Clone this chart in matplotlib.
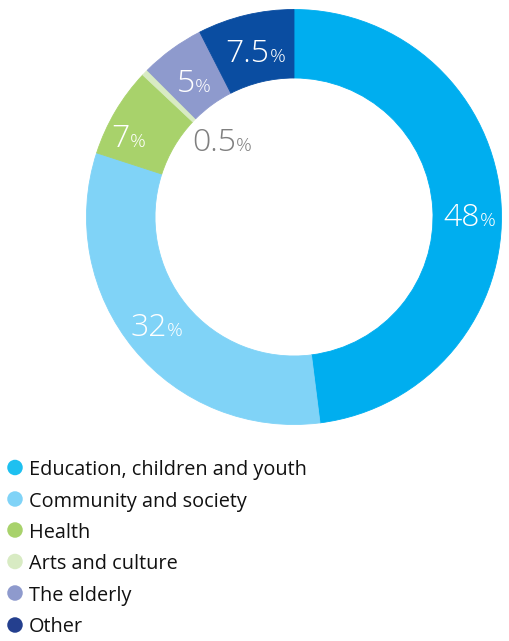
import matplotlib
matplotlib.use("Agg")
import matplotlib.pyplot as plt
import numpy as np

categories = ["Education, children and youth", "Community and society", "Health",
              "Arts and culture", "The elderly", "Other"]
values = [48, 32, 7, 0.5, 5, 7.5]
value_labels = ["48", "32", "7", "0.5", "5", "7.5"]
colors = ["#00AEEF", "#80D3F7", "#A8D26B", "#D8EBC3", "#8E9ACD", "#0A4DA1"]
legend_colors = ["#1EC0F0", "#80D3F7", "#A8D26B", "#D8EBC3", "#8E9ACD", "#243F8E"]

FONT = ["Open Sans", "DejaVu Sans"]
W, H = 509, 641
fig = plt.figure(figsize=(W / 100, H / 100), dpi=100)

cx, cy, R = 294, 217, 207.5
ax = fig.add_axes([(cx - R) / W, (H - cy - R) / H, 2 * R / W, 2 * R / H])
inner = 139 / R
wedges, _ = ax.pie(values, colors=colors, startangle=90, counterclock=False,
                   radius=1.0, wedgeprops=dict(width=1 - inner, linewidth=0.6))
for w, c in zip(wedges, colors):
    w.set_edgecolor(c)
ax.set_xlim(-1, 1)
ax.set_ylim(-1, 1)
ax.set_aspect("equal")
ax.axis("off")

# label placement: radius fraction and angle nudge (deg) per slice
label_r = [0.845, 0.84, 0.89, 0.51, 0.815, 0.825]
angle_nudge = [-2.8, -1.4, 4.3, -3.0, 0.3, -0.5]
label_colors = ["white", "white", "white", "#7F7F7F", "white", "white"]

fig.canvas.draw()
renderer = fig.canvas.get_renderer()
total = sum(values)
start = 90.0
num_size, pct_size = 23, 14
for i, v in enumerate(values):
    span = 360 * v / total
    mid = start - span / 2 + angle_nudge[i]
    start -= span
    x = label_r[i] * np.cos(np.radians(mid))
    y = label_r[i] * np.sin(np.radians(mid))
    tnum = ax.text(x, y, value_labels[i], fontsize=num_size, color=label_colors[i],
                   family=FONT, fontweight="light", ha="right", va="baseline")
    tpct = ax.text(x, y, "%", fontsize=pct_size, color=label_colors[i],
                   family=FONT, fontweight="light", ha="left", va="baseline")
    wn = tnum.get_window_extent(renderer).width
    wp = tpct.get_window_extent(renderer).width
    dx_px = (wn - wp) / 2
    cap_px = 0.715 * num_size * 100 / 72
    inv = ax.transData.inverted()
    p0 = ax.transData.transform((x, y))
    nx, ny = inv.transform((p0[0] + dx_px, p0[1] - cap_px / 2))
    tnum.set_position((nx, ny))
    tpct.set_position((nx, ny))

# legend as manual rows (baselines in px from top)
rows_base = [475, 506.5, 537.5, 569, 600.5, 632.5]
for cat, col, yb in zip(categories, legend_colors, rows_base):
    fig.patches.append(matplotlib.patches.Ellipse((15 / W, 1 - (yb - 7.5) / H), 15.5 / W, 15.5 / H,
                                                  transform=fig.transFigure, facecolor=col,
                                                  edgecolor="none"))
    fig.text(29 / W, 1 - yb / H, cat, fontsize=14.35, family=FONT, color="#111111",
             ha="left", va="baseline")

fig.savefig("out.png", dpi=100, facecolor="white")
